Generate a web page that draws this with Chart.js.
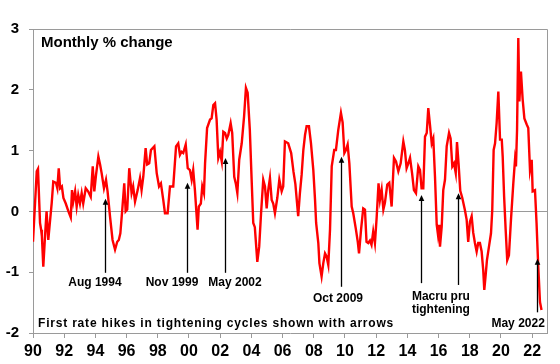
<!DOCTYPE html>
<html><head><meta charset="utf-8">
<script src="https://cdn.jsdelivr.net/npm/chart.js@4.4.0/dist/chart.umd.min.js"></script>
<style>html,body{margin:0;padding:0;background:#fff;}canvas{display:block;}</style>
</head><body>
<canvas id="c" width="560" height="364"></canvas>
<script>
const years = [
1990.00,1990.24,1990.32,1990.45,1990.52,1990.57,1990.66,1990.77,1990.87,1990.98,
1991.08,1991.20,1991.30,1991.47,1991.56,1991.65,1991.74,1991.85,1991.95,1992.10,
1992.27,1992.42,1992.50,1992.58,1992.70,1992.80,1992.90,1993.01,1993.12,1993.22,
1993.38,1993.53,1993.70,1993.83,1993.93,1994.04,1994.19,1994.30,1994.40,1994.55,
1994.68,1994.78,1994.94,1995.10,1995.26,1995.40,1995.50,1995.60,1995.72,1995.85,
1995.94,1996.04,1996.17,1996.32,1996.42,1996.54,1996.71,1996.86,1996.96,1997.07,
1997.22,1997.32,1997.45,1997.56,1997.78,1997.93,1998.08,1998.20,1998.35,1998.46,
1998.63,1998.78,1998.99,1999.17,1999.31,1999.42,1999.52,1999.63,1999.79,1999.92,
2000.06,2000.17,2000.27,2000.38,2000.55,2000.63,2000.76,2000.85,2000.96,2001.03,
2001.16,2001.35,2001.45,2001.56,2001.67,2001.77,2001.88,2001.99,2002.10,2002.20,
2002.31,2002.42,2002.52,2002.67,2002.77,2002.90,2003.00,2003.10,2003.22,2003.38,
2003.53,2003.65,2003.76,2003.90,2004.00,2004.12,2004.22,2004.38,2004.50,2004.62,
2004.76,2004.87,2004.98,2005.08,2005.19,2005.30,2005.40,2005.51,2005.66,2005.79,
2005.94,2006.04,2006.15,2006.36,2006.55,2006.70,2006.82,2007.00,2007.11,2007.22,
2007.33,2007.44,2007.54,2007.69,2007.82,2007.97,2008.08,2008.15,2008.29,2008.36,
2008.50,2008.61,2008.72,2008.82,2008.93,2009.04,2009.15,2009.31,2009.42,2009.57,
2009.74,2009.85,2009.96,2010.06,2010.17,2010.28,2010.43,2010.53,2010.69,2010.82,
2010.90,2011.03,2011.17,2011.28,2011.38,2011.49,2011.60,2011.70,2011.81,2011.92,
2012.03,2012.15,2012.24,2012.35,2012.46,2012.56,2012.71,2012.84,2012.99,2013.14,
2013.27,2013.42,2013.57,2013.74,2013.84,2013.95,2014.06,2014.17,2014.30,2014.42,
2014.55,2014.70,2014.81,2014.91,2015.02,2015.13,2015.24,2015.34,2015.45,2015.56,
2015.66,2015.77,2015.88,2015.96,2016.03,2016.09,2016.20,2016.30,2016.41,2016.52,
2016.67,2016.77,2016.88,2016.99,2017.10,2017.18,2017.28,2017.39,2017.52,2017.69,
2017.80,2017.90,2018.01,2018.12,2018.22,2018.33,2018.44,2018.54,2018.65,2018.76,
2018.86,2018.93,2019.01,2019.10,2019.23,2019.36,2019.44,2019.53,2019.62,2019.72,
2019.83,2019.94,2020.05,2020.11,2020.20,2020.30,2020.40,2020.51,2020.64,2020.79,
2020.90,2020.96,2021.03,2021.11,2021.18,2021.28,2021.39,2021.50,2021.65,2021.75,
2021.86,2021.97,2022.03,2022.18,2022.28,2022.38,2022.50,2022.60
];
const changes = [
-0.50,0.66,0.70,-0.19,-0.30,-0.41,-0.91,-0.41,0.00,-0.47,
-0.19,0.14,0.49,0.47,0.38,0.71,0.38,0.41,0.22,0.13,
0.00,-0.10,0.35,0.16,0.33,0.08,0.27,0.13,0.30,0.13,
0.38,0.33,0.24,0.74,0.33,0.60,0.90,0.77,0.63,0.38,
0.52,0.33,-0.09,-0.47,-0.63,-0.50,-0.47,-0.36,0.02,0.46,
0.00,0.03,0.71,0.30,0.41,0.16,0.35,0.55,0.35,0.57,
1.04,0.77,0.79,1.01,1.07,0.63,0.41,0.46,0.19,-0.03,
-0.03,0.41,0.41,1.07,1.12,0.93,0.98,0.96,1.10,0.71,
0.68,0.52,0.68,0.35,-0.30,0.08,0.13,0.41,0.30,0.79,
1.37,1.51,1.53,1.75,1.78,1.51,0.88,0.98,0.82,1.31,
1.29,1.20,1.26,1.45,1.29,0.57,0.46,0.30,0.85,1.12,
1.56,2.03,1.95,1.34,0.63,-0.19,-0.26,-0.83,-0.58,-0.03,
0.52,0.41,0.05,0.35,0.55,0.19,0.13,-0.03,0.22,0.52,
0.33,0.41,1.15,1.12,0.96,0.65,0.45,-0.08,0.30,0.60,
1.01,1.26,1.40,1.40,1.12,0.68,0.19,-0.19,-0.52,-0.85,
-1.07,-0.85,-0.69,-0.74,-0.88,-0.30,0.74,1.01,1.01,1.34,
1.62,1.46,0.96,1.01,1.10,0.79,0.08,-0.03,-0.28,-0.50,
-0.69,-0.30,0.05,0.03,-0.50,-0.52,-0.48,-0.55,-0.33,-0.52,
-0.10,0.46,0.19,0.36,0.03,0.14,0.44,0.47,0.08,0.88,
0.82,0.66,0.79,1.15,1.01,0.71,0.79,0.88,0.63,0.35,
0.30,0.74,0.68,0.38,0.38,1.23,1.29,1.70,1.42,1.12,
1.20,0.57,-0.22,-0.38,-0.22,-0.58,-0.25,0.35,0.52,1.07,
1.29,1.20,0.74,0.79,0.63,1.14,0.79,0.34,0.22,0.02,
-0.14,-0.50,-0.17,-0.08,-0.35,-0.52,-0.66,-0.52,-0.52,-0.66,
-0.96,-1.29,-1.07,-0.80,-0.58,-0.36,0.02,1.01,1.12,1.45,
1.97,1.18,1.18,0.90,0.25,-0.30,-0.80,-0.72,-0.14,0.46,
0.85,0.74,1.34,2.85,1.81,2.30,1.84,1.53,1.43,1.37,
0.68,0.85,0.33,0.35,-0.19,-0.85,-1.49,-1.62
];
const xTickYears = [1990,1992,1994,1996,1998,2000,2002,2004,2006,2008,2010,2012,2014,2016,2018,2020,2022];
const xMin = 1990, xMax = 2022.95;
const yMin = -2, yMax = 3;

// annotation arrows (data coordinates: year, tip value, tail value)
const arrowYears   = [1994.60, 1999.85, 2002.30, 2009.74, 2014.90, 2017.25, 2022.30];
const arrowTips    = [0.21, 0.47, 0.88, 0.90, 0.27, 0.30, -0.78];
const arrowTails   = [-1.01, -1.01, -1.01, -1.24, -1.18, -1.21, -1.66];
// annotation texts (centre year, value)
const noteTexts  = ["Aug 1994","Nov 1999","May 2002","Oct 2009","Macru pru","tightening","May 2022"];
const noteYears  = [1993.97, 1998.91, 2002.95, 2009.55, 2016.15, 2016.15, 2021.10];
const noteValues = [-1.18, -1.18, -1.18, -1.43, -1.41, -1.61, -1.85];
const titleText = "Monthly % change";
const footText = "First rate hikes in tightening cycles shown with arrows";

const FONT = '"Liberation Sans", Arial, sans-serif';
const GRAY = '#9a9a9a';

const points = years.map((y, i) => ({x: y, y: changes[i]}));

const decor = {
  id: 'decor',
  afterDatasetsDraw(chart) {
    const {ctx, chartArea: a, scales: {x, y}} = chart;
    ctx.save();
    ctx.strokeStyle = GRAY; ctx.lineWidth = 1;
    ctx.beginPath();
    ctx.moveTo(a.left, a.top + 0.5); ctx.lineTo(a.right + 0.5, a.top + 0.5);
    ctx.lineTo(a.right + 0.5, a.bottom);
    ctx.stroke();
    ctx.strokeStyle = '#000'; ctx.fillStyle = '#000'; ctx.lineWidth = 1.3;
    arrowYears.forEach((yr, i) => {
      const px = Math.round(x.getPixelForValue(yr)) + 0.5;
      const top = y.getPixelForValue(arrowTips[i]);
      const bot = y.getPixelForValue(arrowTails[i]);
      ctx.beginPath(); ctx.moveTo(px, bot); ctx.lineTo(px, top + 4); ctx.stroke();
      ctx.beginPath(); ctx.moveTo(px, top); ctx.lineTo(px - 2.8, top + 6); ctx.lineTo(px + 2.8, top + 6); ctx.closePath(); ctx.fill();
    });
    ctx.font = 'bold 12px ' + FONT; ctx.textAlign = 'center'; ctx.textBaseline = 'middle';
    noteTexts.forEach((t, i) => {
      ctx.fillText(t, x.getPixelForValue(noteYears[i]), y.getPixelForValue(noteValues[i]));
    });
    ctx.textAlign = 'left';
    ctx.font = 'bold 15px ' + FONT;
    ctx.fillText(titleText, a.left + 8, a.top + 14);
    ctx.font = 'bold 12px ' + FONT;
    try { ctx.letterSpacing = '0.8px'; } catch (e) {}
    ctx.fillText(footText, a.left + 5, a.bottom - 9);
    ctx.restore();
  }
};

new Chart(document.getElementById('c'), {
  type: 'line',
  data: { datasets: [{ data: points, borderColor: '#ff0000', borderWidth: 2.4, pointRadius: 0, tension: 0, fill: false }] },
  options: {
    responsive: false, animation: false, devicePixelRatio: 1,
    layout: { padding: { top: 29, right: 13, left: 0, bottom: 0 } },
    plugins: { legend: { display: false }, tooltip: { enabled: false } },
    scales: {
      x: {
        type: 'linear', min: xMin, max: xMax,
        afterBuildTicks: s => { s.ticks = xTickYears.map(v => ({value: v})); },
        afterFit: s => { s.height = 31; },
        ticks: { autoSkip: false, maxRotation: 0, color: '#000', padding: 4,
                 font: { family: FONT, size: 16, weight: 'bold' },
                 callback: v => String(v % 100).padStart(2, '0') },
        grid: { drawOnChartArea: false, tickLength: 5, tickColor: GRAY },
        border: { color: GRAY }
      },
      y: {
        min: yMin, max: yMax,
        afterFit: s => { s.width = 33; },
        ticks: { stepSize: 1, color: '#000', padding: 10,
                 font: { family: FONT, size: 15, weight: 'bold' } },
        grid: { color: c => (c.tick && c.tick.value === 0) ? GRAY : 'rgba(0,0,0,0)', tickLength: 4, tickColor: GRAY },
        border: { color: GRAY }
      }
    }
  },
  plugins: [decor]
});
</script>
</body></html>
